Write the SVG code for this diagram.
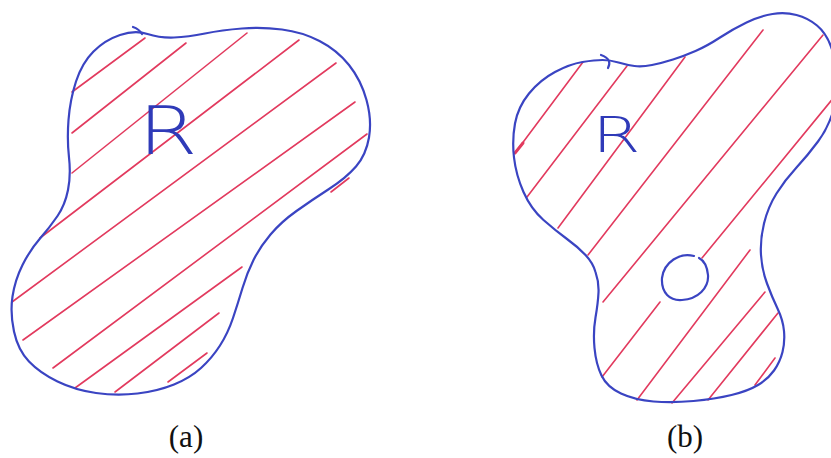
<svg xmlns="http://www.w3.org/2000/svg" width="831" height="458" viewBox="0 0 831 458">
<style>
.outline{fill:none;stroke:#3a44c2;stroke-width:2.2;stroke-linecap:round;stroke-linejoin:round}
.hatch{fill:none;stroke:#e23a5e;stroke-width:1.6;stroke-linecap:round}
.hand{font-family:"DejaVu Sans",sans-serif;font-weight:200;fill:#2f3ab8}
.cap{font-family:"Liberation Serif",serif;font-size:31px;fill:#111;text-anchor:middle}
</style>
<rect width="831" height="458" fill="#ffffff"/>
<g id="region-a">
  <g id="hatch-a">
    <line class="hatch" x1="72" y1="92" x2="145" y2="38"/>
    <line class="hatch" x1="72" y1="133" x2="186" y2="43"/>
    <line class="hatch" x1="72" y1="173" x2="247" y2="33"/>
    <line class="hatch" x1="40" y1="238" x2="299" y2="40"/>
    <line class="hatch" x1="12" y1="302" x2="336" y2="63"/>
    <line class="hatch" x1="23" y1="340" x2="355" y2="102"/>
    <line class="hatch" x1="53" y1="368" x2="367" y2="134"/>
    <line class="hatch" x1="75" y1="388" x2="242" y2="267"/>
    <line class="hatch" x1="115" y1="392" x2="219" y2="313"/>
    <line class="hatch" x1="168" y1="382" x2="207" y2="353"/>
    <line class="hatch" x1="331" y1="192" x2="349" y2="178"/>
  </g>
  <path class="outline" d="M 120,35 Q 135,30 147.5,34 Q 160,38 174,37.5 Q 188,37 205,33.5 Q 222,30 242,28.5 Q 262,27 282,29.5 Q 302,32 319.5,41 Q 337,50 349,65 Q 361,80 366.5,100 Q 372,120 369,137.5 Q 366,155 356,166.5 Q 346,178 329,189 Q 312,200 296.5,211 Q 281,222 270.5,234.5 Q 260,247 253.5,260 Q 247,273 242.5,288 Q 238,303 233,318 Q 228,333 220,345.5 Q 212,358 201,368 Q 190,378 174,384.5 Q 158,391 137.5,393.5 Q 117,396 96,393 Q 75,390 57.5,381.5 Q 40,373 29,361.5 Q 18,350 14,331.5 Q 10,313 12.5,296.5 Q 15,280 22.5,265 Q 30,250 40,238.5 Q 50,227 57.5,216 Q 65,205 68,190 Q 71,175 69,157.5 Q 67,140 68.5,120 Q 70,100 76,81.5 Q 82,63 93.5,51.5 Q 105,40 120,35 Z"/>
  <path class="outline" d="M 133,27 Q 139,29 142,34"/>
  <text class="hand" font-size="66" transform="translate(138,154) scale(1.3,1)">R</text>
</g>
<g id="region-b">
  <g id="hatch-b">
    <line class="hatch" x1="515" y1="153" x2="583" y2="62"/>
    <line class="hatch" x1="515" y1="153" x2="523" y2="143" style="stroke-width:3"/>
    <line class="hatch" x1="527" y1="197" x2="627" y2="66"/>
    <line class="hatch" x1="558" y1="228" x2="685" y2="57"/>
    <line class="hatch" x1="588" y1="255" x2="763" y2="30"/>
    <line class="hatch" x1="603" y1="302" x2="823" y2="35"/>
    <line class="hatch" x1="702" y1="258" x2="835" y2="96"/>
    <line class="hatch" x1="602" y1="377" x2="660" y2="302"/>
    <line class="hatch" x1="637" y1="400" x2="750" y2="250"/>
    <line class="hatch" x1="672" y1="403" x2="765" y2="292"/>
    <line class="hatch" x1="708" y1="400" x2="778" y2="313"/>
    <line class="hatch" x1="755" y1="385" x2="775" y2="358"/>
  </g>
  <path class="outline" d="M 602.5,60 Q 610,60 618.5,62.5 Q 627,65 634.5,66 Q 642,67 652,65 Q 662,63 673,59.5 Q 684,56 695.5,51 Q 707,46 720,37.5 Q 733,29 746.5,22.5 Q 760,16 772.5,14 Q 785,12 796.5,15 Q 808,18 817,25.5 Q 826,33 831,46.5 Q 836,60 837,77.5 Q 838,95 833,111.5 Q 828,128 818,141.5 Q 808,155 796.5,167.5 Q 785,180 776.5,193.5 Q 768,207 764,223.5 Q 760,240 761,255 Q 762,270 767,283.5 Q 772,297 777.5,308.5 Q 783,320 784,331 Q 785,342 782.5,352 Q 780,362 774,370.5 Q 768,379 758,385 Q 748,391 731.5,395 Q 715,399 693.5,401 Q 672,403 653.5,401.5 Q 635,400 621,393.5 Q 607,387 601.5,375.5 Q 596,364 594.5,348 Q 593,332 595.5,317.5 Q 598,303 598.5,292.5 Q 599,282 595.5,272 Q 593,263 585.5,255 Q 578,247 567,239 Q 556,231 543.5,220 Q 531,209 523.5,192 Q 516,175 514,157.5 Q 512,140 515,123.5 Q 518,107 529,93.5 Q 540,80 555,72 Q 570,64 582.5,62 Q 595,60 602.5,60 Z"/>
  <path class="outline" d="M 601,55 Q 607,57 609,61 Q 610,64 608,68"/>
  <path id="hole" class="outline" d="M 694,256 C 680,252 664,262 662,278 C 661,293 670,301 682,300 C 698,299 709,288 708,275 C 707,265 703,260 699,258"/>
  <text class="hand" font-size="50" transform="translate(592,152) scale(1.4,1)">R</text>
</g>
<g id="captions">
  <text class="cap" x="186" y="447">(a)</text>
  <text class="cap" x="685" y="447">(b)</text>
</g>
</svg>
